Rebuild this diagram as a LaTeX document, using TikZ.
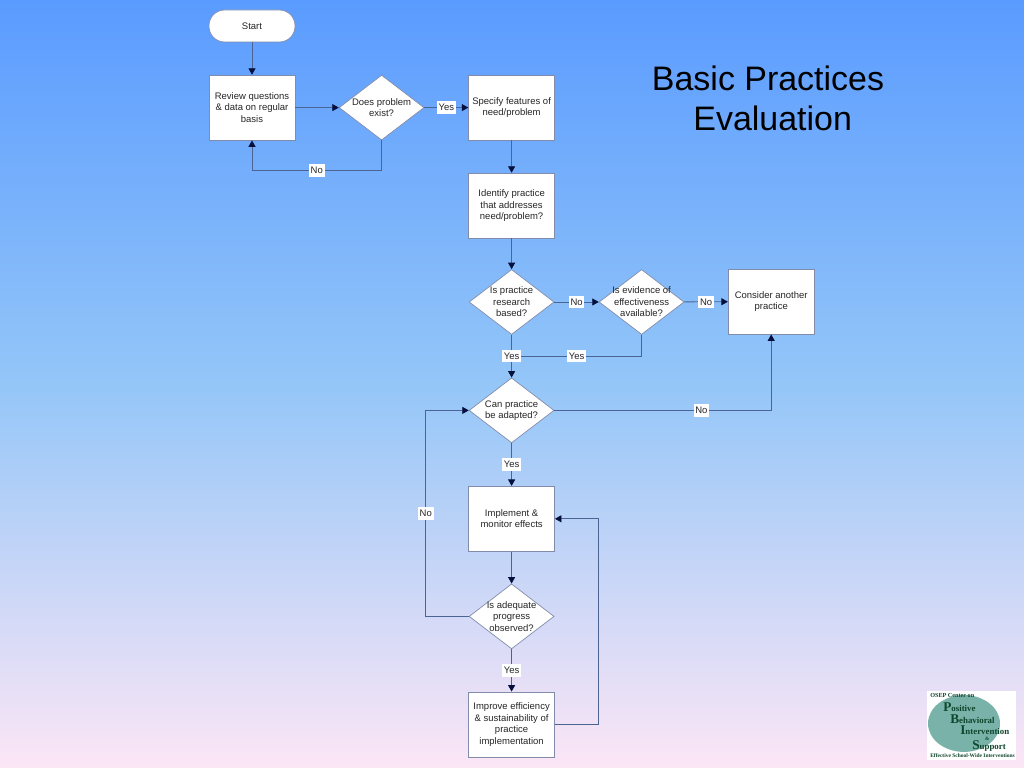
\documentclass[tikz,border=0pt]{standalone}
\usepackage{fontspec}
\setmainfont{Liberation Sans}
\newfontfamily\logofont{Liberation Serif}
\usepackage{xcolor}
\definecolor{bgtop}{RGB}{90,155,255}
\definecolor{bgmid}{RGB}{148,198,248}
\definecolor{bgbottom}{RGB}{252,230,246}
\definecolor{flowline}{RGB}{75,100,145}
\definecolor{flowedge}{RGB}{130,140,170}
\definecolor{flowtip}{RGB}{5,15,60}
\definecolor{logoteal}{RGB}{120,178,168}
\definecolor{logogreen}{RGB}{15,70,45}
\usetikzlibrary{arrows.meta,positioning,shapes.geometric,calc}
\tikzset{
  flowtext/.style={font=\fontsize{6.75}{8.2}\selectfont, align=center, text=black!85},
  flowbox/.style={draw=flowedge, fill=white, line width=0.5pt, inner sep=1pt, minimum width=2.15cm, minimum height=1.625cm, flowtext},
  flowstart/.style={flowbox, minimum height=0.8cm, rounded corners=0.39cm},
  flowdiamond/.style={diamond, draw=flowedge, fill=white, line width=0.5pt, minimum width=2.125cm, minimum height=1.625cm, inner sep=0pt},
  flowlabel/.style={fill=white, inner xsep=1.3pt, inner ysep=2pt, flowtext},
  flowarrow/.style={draw=flowline, line width=0.6pt, -{Triangle[length=4.6pt,width=5pt,color=flowtip]}},
  logotext/.style={font=\logofont\bfseries\fontsize{6.3}{7}\selectfont, text=logogreen, inner sep=0pt, anchor=base west},
}
\newcommand{\biglogo}[1]{{\fontsize{9.5}{10}\selectfont #1}}
\begin{document}
\begin{tikzpicture}
  \useasboundingbox (0,0) rectangle (25.6,19.2);
  %% background
  \fill[top color=bgtop, bottom color=bgbottom, middle color=bgmid, shading angle=0] (0,0) rectangle (25.6,19.2);

  %% title
  \node[font=\fontsize{24.15}{29}\selectfont, align=center] (title) at (19.2,16.74) {Basic Practices\\~Evaluation};

  %% top row
  \node[flowstart] (start) at (6.3,18.55) {Start};
  \node[flowbox] (review) at (6.3,16.51) {Review questions\\\& data on regular\\basis};
  \node[flowdiamond] (problem) at (9.54,16.51) {};
  \node[flowtext] (problemtext) at (problem) {Does problem\\exist?};
  \node[flowbox] (specify) at (12.79,16.51) {Specify features of\\need/problem};
  \node[flowbox] (identify) at (12.79,14.06) {Identify practice\\that addresses\\need/problem?};

  %% decisions on the practice
  \node[flowdiamond] (research) at (12.79,11.65) {};
  \node[flowtext] (researchtext) at (research) {Is practice\\research\\based?};
  \node[flowdiamond] (evidence) at (16.04,11.65) {};
  \node[flowtext] (evidencetext) at (evidence) {Is evidence of\\effectiveness\\available?};
  \node[flowbox] (consider) at (19.28,11.66) {Consider another\\practice};
  \node[flowdiamond] (adapted) at (12.79,8.94) {};
  \node[flowtext] (adaptedtext) at (adapted) {Can practice\\be adapted?};

  %% lower part
  \node[flowbox] (implement) at (12.79,6.23) {Implement \&\\monitor effects};
  \node[flowdiamond] (adequate) at (12.79,3.79) {};
  \node[flowtext] (adequatetext) at (adequate) {Is adequate\\progress\\observed?};
  \node[flowbox] (improve) at (12.79,1.09) {Improve efficiency\\\& sustainability of\\practice\\implementation};

  \coordinate (merge) at ($(research.south)!0.5!(adapted.north)$);

  %% connectors
  \draw[flowarrow] (start) -- (review);
  \draw[flowarrow] (review) -- (problem);
  \draw[flowarrow] (problem) -- node[flowlabel]{Yes} (specify);
  \draw[flowarrow] (problem.south) -- ++(0,-0.75) -| node[flowlabel, pos=0.25]{No} (review.south);
  \draw[flowarrow] (specify) -- (identify);
  \draw[flowarrow] (identify) -- (research);
  \draw[flowarrow] (research) -- node[flowlabel]{No} (evidence);
  \draw[flowarrow] (evidence) -- node[flowlabel]{No} (consider);
  \draw[flowline, line width=0.6pt] (evidence.south) |- node[flowlabel, pos=0.75]{Yes} (merge);
  \draw[flowarrow] (research) -- node[flowlabel]{Yes} (adapted);
  \draw[flowarrow] (adapted.east) -| node[flowlabel, pos=0.339]{No} (consider.south);
  \draw[flowarrow] (adapted) -- node[flowlabel]{Yes} (implement);
  \draw[flowarrow] (implement) -- (adequate);
  \draw[flowarrow] (adequate.west) -- ++(-1.075,0) |- node[flowlabel, pos=0.25]{No} (adapted.west);
  \draw[flowarrow] (adequate) -- node[flowlabel]{Yes} (improve);
  \draw[flowarrow] (improve.east) -- ++(1.075,0) |- (implement.east);

  %% logo
  \fill[white] (23.175,0.2) rectangle (25.4,1.925);
  \fill[logoteal] (24.1,1.1125) ellipse (0.9 and 0.71);
  \node[logotext, font=\logofont\bfseries\fontsize{4.4}{5}\selectfont] (logotop) at (23.25,1.75) {OSEP Center on};
  \node[logotext] (logop) at (23.575,1.42) {\biglogo{P}ositive};
  \node[logotext] (logob) at (23.75,1.11) {\biglogo{B}ehavioral};
  \node[logotext] (logoi) at (24.0,0.83) {\biglogo{I}ntervention};
  \node[logotext, font=\logofont\bfseries\fontsize{3.6}{4}\selectfont] (logoand) at (24.62,0.69) {\&};
  \node[logotext] (logos) at (24.3,0.47) {\biglogo{S}upport};
  \node[logotext, font=\logofont\bfseries\fontsize{3.9}{5}\selectfont] (logobottom) at (23.25,0.27) {Effective School-Wide Interventions};
\end{tikzpicture}
\end{document}
